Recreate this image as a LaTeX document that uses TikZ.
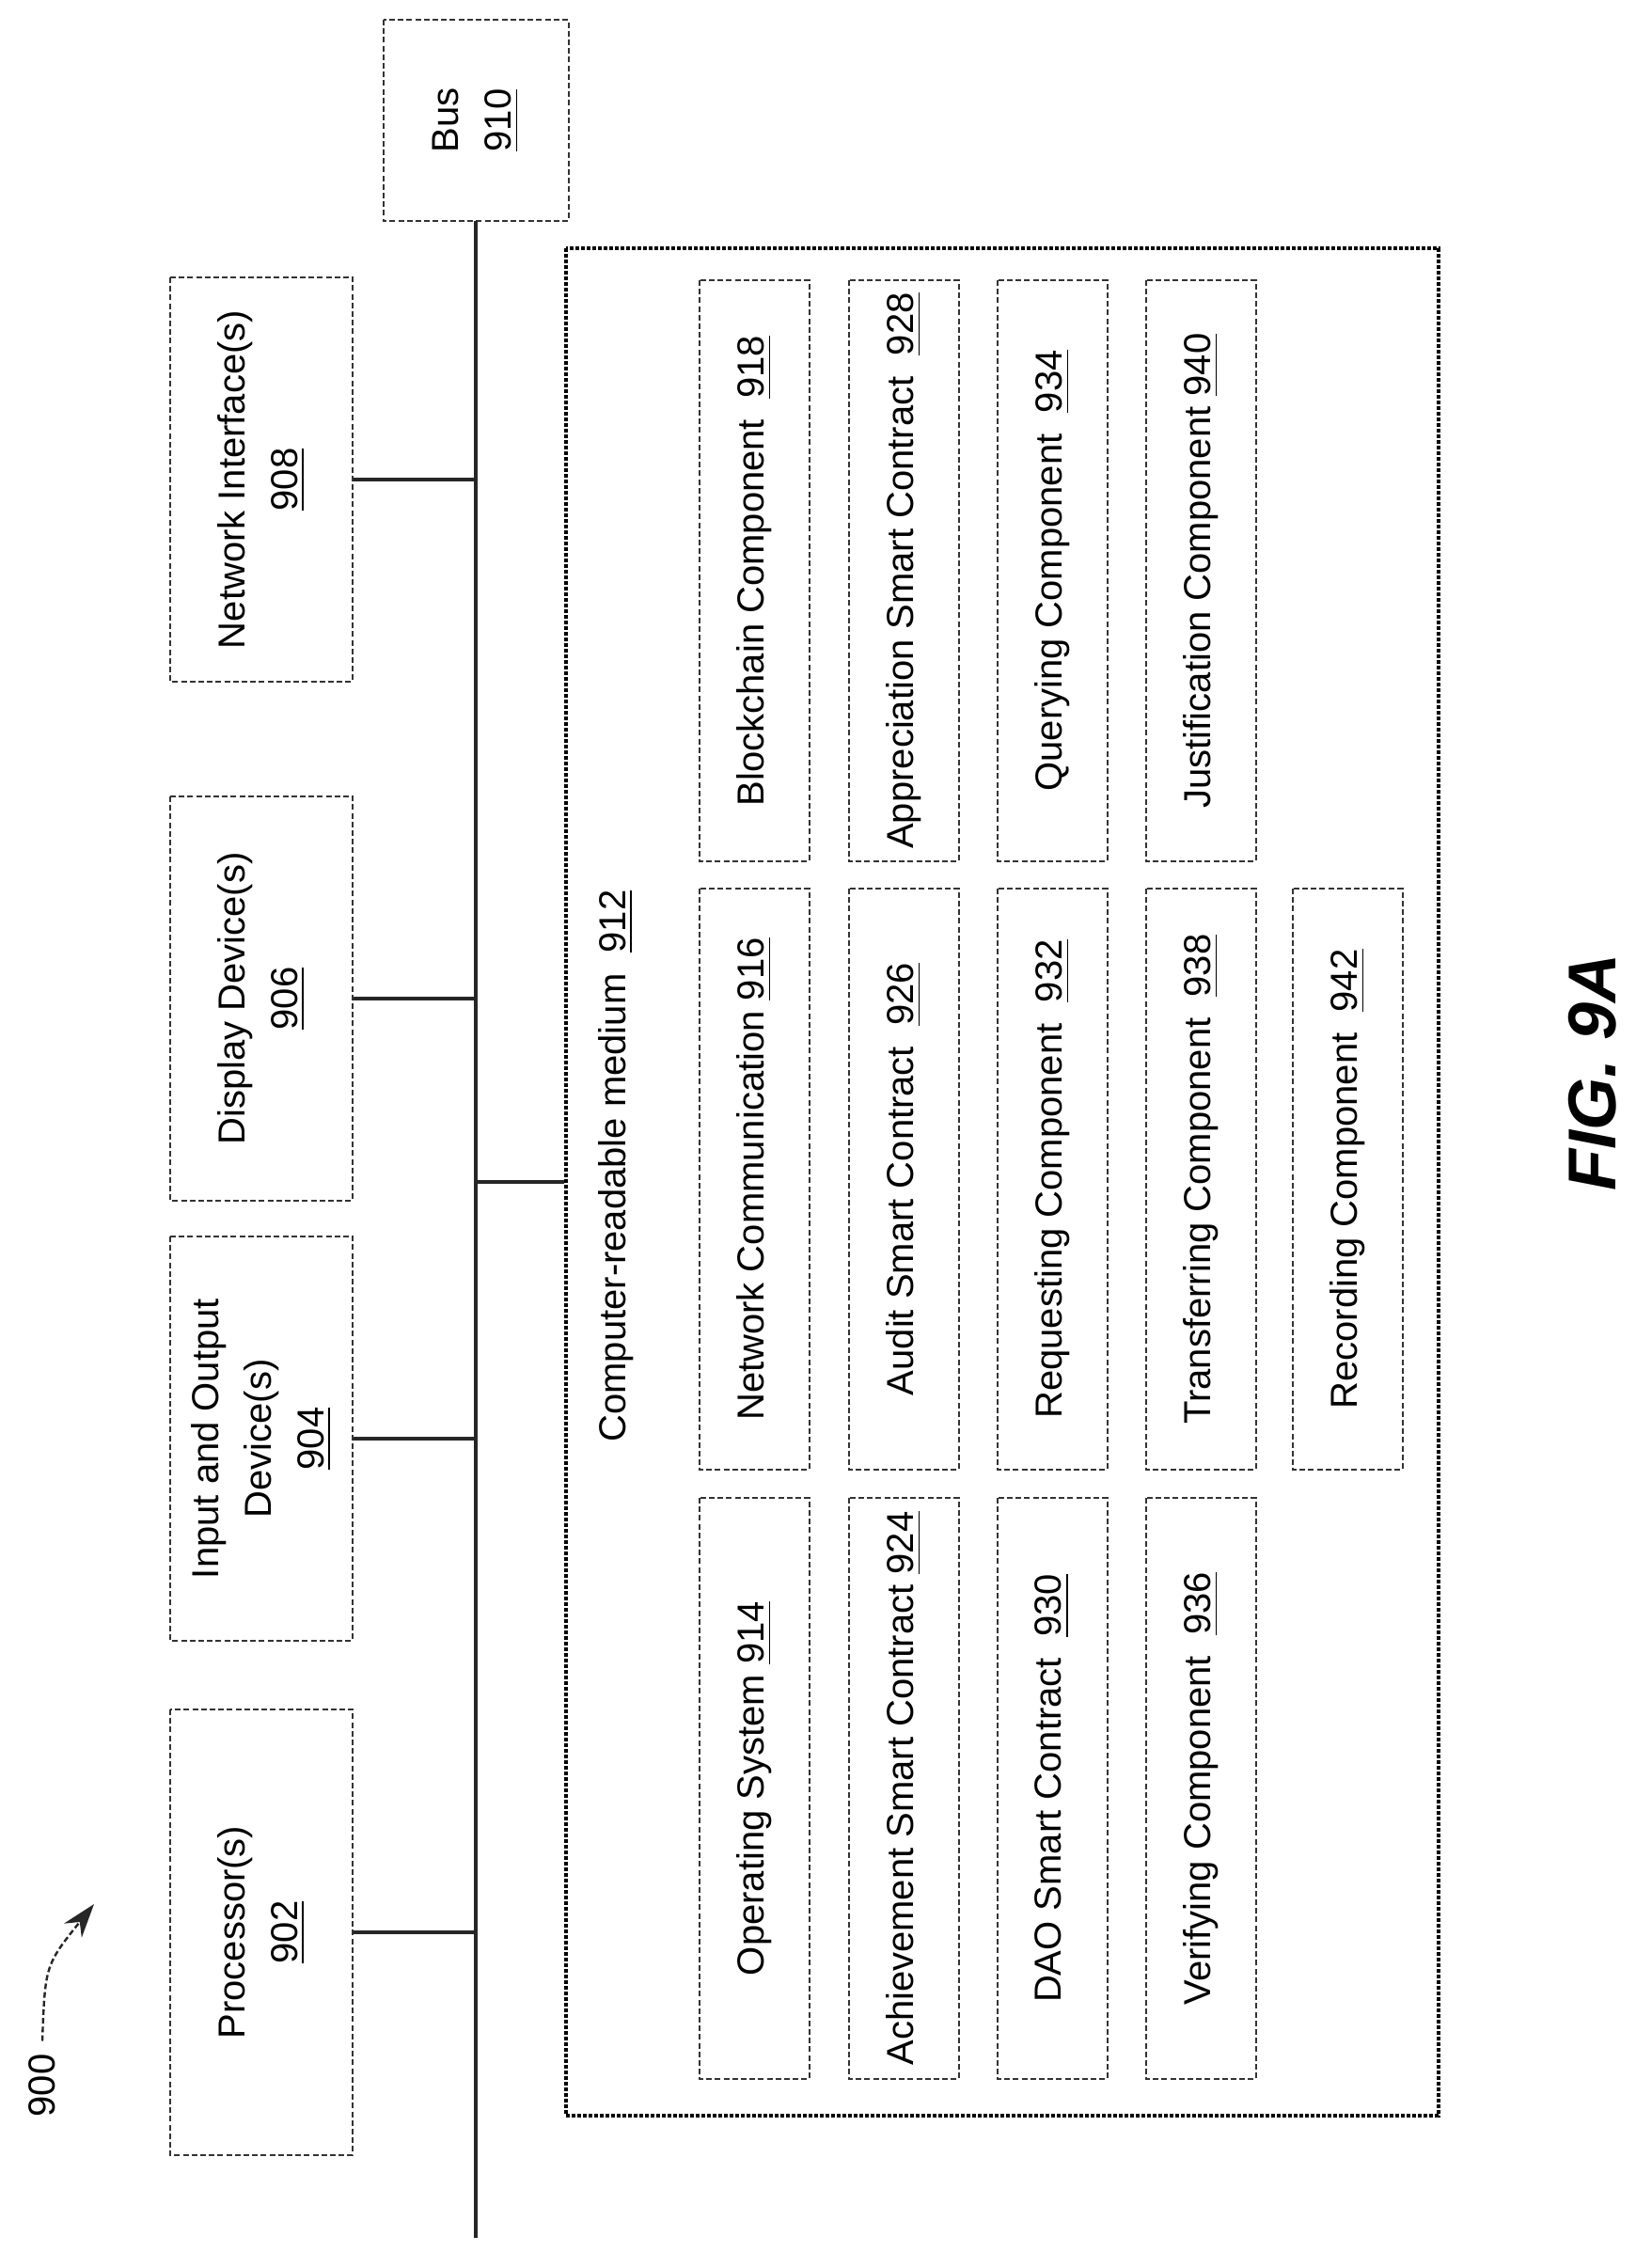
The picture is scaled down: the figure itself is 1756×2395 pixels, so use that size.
\documentclass[tikz,border=0pt]{standalone}
\usepackage{fontspec}
\setmainfont{Liberation Sans}
\usetikzlibrary{arrows.meta}
\begin{document}
\begin{tikzpicture}[x=0.25pt,y=-0.25pt,
  box/.style={draw=black!80,dash pattern=on 1.5pt off 0.8pt,line width=0.5pt,rotate=90,align=center,inner sep=0pt,font=\fontsize{10}{14}\selectfont},
  outer/.style={box,minimum width=107.5pt,minimum height=48.5pt},
  inner/.style={box,minimum width=154.5pt,minimum height=29.25pt},
  conn/.style={draw=black!85,line width=0.8pt}]
\useasboundingbox (0,0) rectangle (1756,2395);
\node[outer,minimum width=53.5pt,minimum height=49.25pt] (bus) at (506,128) {Bus\\\underline{910}};
\coordinate (bustop) at (506,235);
\coordinate (busbot) at (506,2380);
\draw[conn] (bustop) -- (busbot);
\node[outer,minimum width=118.5pt] (proc) at (278,2055) {Processor(s)\\\underline{902}};
\node[outer] (io) at (278,1530) {Input and Output\\Device(s)\\\underline{904}};
\node[outer] (disp) at (278,1062) {Display Device(s)\\\underline{906}};
\node[outer] (net) at (278,510) {Network Interface(s)\\\underline{908}};
\foreach \n in {proc,io,disp,net} \draw[conn] (\n.south) -- (\n.south -| bustop);
\node[box,draw=black,line width=1pt,dash pattern=on 1pt off 0.5pt,minimum width=496.5pt,minimum height=232pt] (crm) at (1066,1257) {};
\draw[conn] (crm.north) -- (crm.north -| bustop);
\node[rotate=90,font=\fontsize{10}{14}\selectfont] (crmt) at (655,1240) {Computer-readable medium\ \ \underline{912}};
\node[inner] (b914) at (802,1902) {Operating System \underline{914}};
\node[inner] (b916) at (802,1254) {Network Communication \underline{916}};
\node[inner] (b918) at (802,607) {Blockchain Component\ \ \underline{918}};
\node[inner] (b924) at (961,1902) {Achievement Smart Contract \underline{924}};
\node[inner] (b926) at (961,1254) {Audit Smart Contract\ \ \underline{926}};
\node[inner] (b928) at (961,607) {Appreciation Smart Contract\ \ \underline{928}};
\node[inner] (b930) at (1119,1902) {DAO Smart Contract\ \ \underline{930}};
\node[inner] (b932) at (1119,1254) {Requesting Component\ \ \underline{932}};
\node[inner] (b934) at (1119,607) {Querying Component\ \ \underline{934}};
\node[inner] (b936) at (1277,1902) {Verifying Component\ \ \underline{936}};
\node[inner] (b938) at (1277,1254) {Transferring Component\ \ \underline{938}};
\node[inner] (b940) at (1277,607) {Justification Component \underline{940}};
\node[inner] (b942) at (1433,1254) {Recording Component\ \ \underline{942}};
\node[rotate=90,font=\fontsize{18}{20}\selectfont\bfseries\itshape] (fig) at (1694,1140) {FIG. 9A};
\node[rotate=90,font=\fontsize{10}{12}\selectfont] (lbl) at (45,2218) {900};
\coordinate (arrend) at (100,2025);
\draw[black!85,dash pattern=on 1.5pt off 0.8pt,line width=0.6pt,-{Stealth[length=9pt,width=6pt]}] (lbl.east) .. controls (48,2090) .. (arrend);
\end{tikzpicture}
\end{document}
